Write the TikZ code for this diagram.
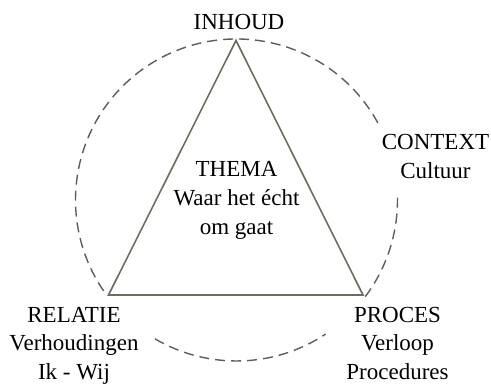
\documentclass[tikz,border=0pt]{standalone}
\usepackage{fontspec}
\setmainfont{Liberation Serif}
\definecolor{triline}{RGB}{112,107,96}
\definecolor{circline}{RGB}{96,93,88}
\begin{document}
\begin{tikzpicture}[x=1pt,y=-1pt,
  lbl/.style={font=\fontsize{23}{29}\selectfont, align=center, inner sep=0pt, anchor=base, text=black},
  tri/.style={draw=triline, line width=1.6pt, line join=miter},
  circ/.style={draw=circline, line width=1.4pt, dash pattern=on 10pt off 6pt}]
\useasboundingbox (0,0) rectangle (491,385);
\coordinate (C) at (236.5,200);
\coordinate (T) at (236,40.5);
\coordinate (L) at (108.5,295);
\coordinate (R) at (363,295);
% dashed context circle (interrupted near the labels)
\draw[circ] ([shift={(28.6:161pt)}]C) arc[start angle=28.6, end angle=216.5, radius=161pt];
\draw[circ] ([shift={(239.6:161pt)}]C) arc[start angle=239.6, end angle=303.6, radius=161pt];
\draw[circ] ([shift={(323.1:161pt)}]C) arc[start angle=323.1, end angle=362.9, radius=161pt];
% triangle
\draw[tri] (T) -- (L) -- (R) -- cycle;
% labels (anchor base = baseline of the last line)
\node[lbl] (inhoud) at (239,30) {INHOUD};
\node[lbl] (thema) at (236.5,235) {THEMA\\Waar het écht\\om gaat};
\node[lbl] (context) at (435.5,179) {CONTEXT\\Cultuur};
\node[lbl] (relatie) at (74,380) {RELATIE\\Verhoudingen\\Ik - Wij};
\node[lbl] (proces) at (397.5,380) {PROCES\\Verloop\\Procedures};
\end{tikzpicture}
\end{document}
